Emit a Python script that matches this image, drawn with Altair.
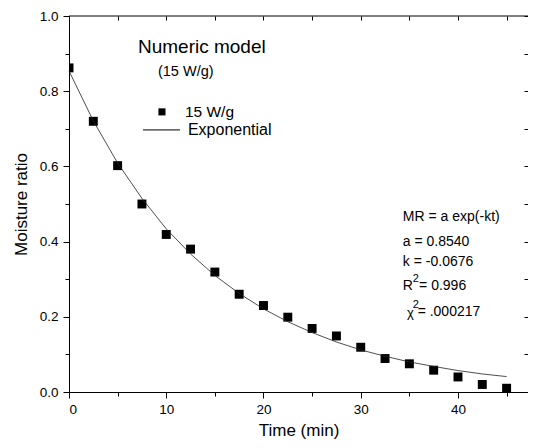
import altair as alt
import pandas as pd

# ---- data ----
time_min = [0, 2.5, 5, 7.5, 10, 12.5, 15, 17.5, 20, 22.5, 25, 27.5, 30, 32.5, 35, 37.5, 40, 42.5, 45]
moisture_ratio = [0.862, 0.72, 0.602, 0.50, 0.419, 0.38, 0.319, 0.26, 0.23, 0.199, 0.169, 0.149, 0.119,
                  0.089, 0.075, 0.058, 0.04, 0.02, 0.01]
fit_ratio = [0.854, 0.721, 0.609, 0.515, 0.434, 0.367, 0.310, 0.262, 0.221, 0.187, 0.158, 0.133,
             0.112, 0.095, 0.080, 0.068, 0.057, 0.048, 0.041]
x_ticks = [0, 5, 10, 15, 20, 25, 30, 35, 40, 45]
y_ticks = [0.0, 0.1, 0.2, 0.3, 0.4, 0.5, 0.6, 0.7, 0.8, 0.9, 1.0]

df = pd.DataFrame({"t": time_min, "mr": moisture_ratio, "fit": fit_ratio})

FONT = "Liberation Sans"
xscale = alt.Scale(domain=[0, 47.2], nice=False, zero=False)
yscale = alt.Scale(domain=[0, 1], nice=False)

base = alt.Chart(df)

points = base.mark_square(size=80, color="black", opacity=1, clip=True).encode(
    x=alt.X("t:Q", scale=xscale, title="Time (min)",
            axis=alt.Axis(values=x_ticks, format="d",
                          labelExpr="datum.value % 10 === 0 ? datum.label : ''",
                          tickSize={"condition": {"test": "datum.value % 10 === 0", "value": 6}, "value": 4},
                          labelPadding=4, titlePadding=7, grid=False)),
    y=alt.Y("mr:Q", scale=yscale, title="Moisture ratio",
            axis=alt.Axis(values=y_ticks, format=".1f",
                          labelExpr="round(datum.value*10) % 2 === 0 ? datum.label : ''",
                          tickSize={"condition": {"test": "round(datum.value*10) % 2 === 0", "value": 6}, "value": 4},
                          labelPadding=5, titlePadding=9, grid=False)),
)

line = base.mark_line(color="#222222", strokeWidth=0.8).encode(
    x=alt.X("t:Q", scale=xscale,
            axis=alt.Axis(orient="top", values=x_ticks, labels=False, domain=False, title=None,
                          offset=-4, tickSize=4, grid=False)),
    y=alt.Y("fit:Q", scale=yscale,
            axis=alt.Axis(orient="right", values=y_ticks, labels=False, domain=False, title=None,
                          offset=-4, tickSize=4, grid=False)),
)

top_border = alt.Chart().mark_rule(color="black", strokeWidth=1).encode(
    y=alt.YDatum(1.0, axis=None))


def txt(x, y, s, size, align="left", baseline="middle"):
    return alt.Chart().mark_text(text=s, font=FONT, fontSize=size, color="black",
                                 align=align, baseline=baseline).encode(
        x=alt.XDatum(x, axis=None), y=alt.YDatum(y, axis=None))


annotations = [
    txt(7.09, 0.918, "Numeric model", 19),
    txt(9.15, 0.851, "(15 W/g)", 14.5),
    txt(11.92, 0.745, "15 W/g", 15.5),
    txt(12.23, 0.697, "Exponential", 16),
    txt(34.33, 0.465, "MR = a exp(-kt)", 14),
    txt(34.33, 0.399, "a = 0.8540", 14),
    txt(34.33, 0.346, "k = -0.0676", 14),
    txt(34.33, 0.282, "R", 14),
    txt(35.35, 0.300, "2", 11),
    txt(36.0, 0.282, "= 0.996", 14),
    txt(34.75, 0.210, "χ", 13),
    txt(35.35, 0.232, "2", 11),
    txt(35.85, 0.213, "= .000217", 14),
]

legend_sq = alt.Chart().mark_square(size=50, color="black", opacity=1).encode(
    x=alt.XDatum(9.56, axis=None), y=alt.YDatum(0.745, axis=None))
legend_line = alt.Chart().mark_rule(color="black", strokeWidth=1).encode(
    x=alt.XDatum(7.61, axis=None), x2=alt.X2Datum(11.41), y=alt.YDatum(0.697, axis=None))

chart = alt.layer(points, line, top_border, legend_sq, legend_line, *annotations).resolve_axis(
    x="independent", y="independent"
).properties(
    width=459, height=376,
    background="white",
    autosize=alt.AutoSizeParams(type="none"),
    padding={"left": 61, "top": 8, "right": 0, "bottom": 48},
).configure_view(stroke=None).configure_axis(
    labelFont=FONT, titleFont=FONT, labelFontSize=13.5, titleFontSize=17,
    labelColor="black", titleColor="black", tickColor="black", domainColor="black",
    titleFontWeight="normal", domainWidth=1, tickWidth=1,
)

chart.save("out.html", embed_options={"renderer": "svg", "actions": False})
